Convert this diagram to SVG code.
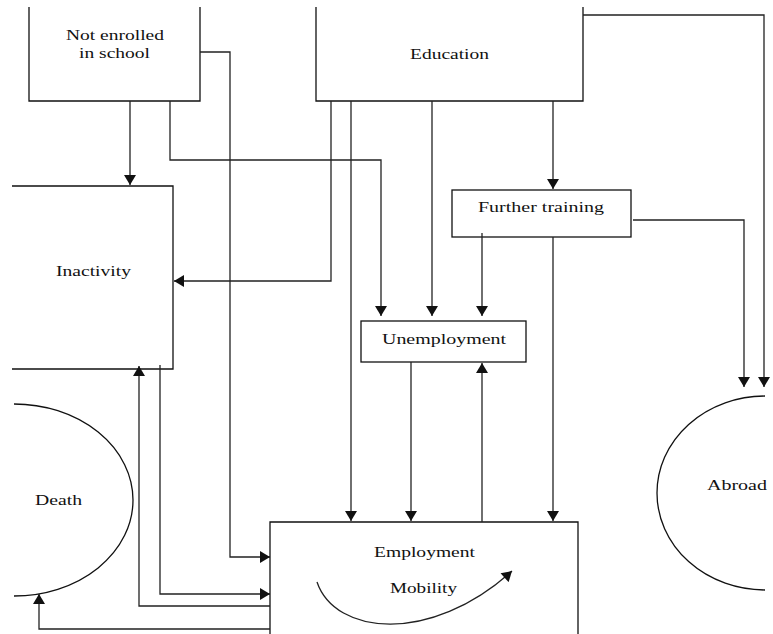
<svg xmlns="http://www.w3.org/2000/svg" width="773" height="634" viewBox="0 0 773 634">
<defs>
<marker id="ah" markerUnits="userSpaceOnUse" markerWidth="12" markerHeight="12" refX="10" refY="6" orient="auto" viewBox="0 0 10 12">
<path d="M0,0 L10,6 L0,12 z" fill="#111"/>
</marker>
</defs>
<style>
.box{fill:none;stroke:#111;stroke-width:1.3}
.lbl{font-family:'Liberation Serif','Times New Roman',Times,serif;font-size:15.5px;fill:#111}
.con{fill:none;stroke:#222;stroke-width:1.3}
.arr{marker-end:url(#ah)}
</style>
<rect width="773" height="634" fill="#fff"/>
<g id="not-enrolled">
<path class="box" d="M29 7 V101 H200 V7"/>
<text class="lbl" x="66" y="40" textLength="98" lengthAdjust="spacingAndGlyphs">Not enrolled</text>
<text class="lbl" x="79" y="58" textLength="71" lengthAdjust="spacingAndGlyphs">in school</text>
</g>
<g id="education">
<path class="box" d="M316 7 V101 H583 V7"/>
<text class="lbl" x="410" y="59" textLength="79" lengthAdjust="spacingAndGlyphs">Education</text>
</g>
<g id="inactivity">
<path class="box" d="M12 186 H173 V369 H12"/>
<text class="lbl" x="56" y="276" textLength="75" lengthAdjust="spacingAndGlyphs">Inactivity</text>
</g>
<g id="further-training">
<rect class="box" x="452" y="190" width="179" height="47"/>
<text class="lbl" x="478" y="212" textLength="126" lengthAdjust="spacingAndGlyphs">Further training</text>
</g>
<g id="unemployment">
<rect class="box" x="361" y="321" width="165" height="41"/>
<text class="lbl" x="382" y="344" textLength="124" lengthAdjust="spacingAndGlyphs">Unemployment</text>
</g>
<g id="employment">
<path class="box" d="M270 640 V522 H578 V640"/>
<text class="lbl" x="374" y="557" textLength="101" lengthAdjust="spacingAndGlyphs">Employment</text>
<text class="lbl" x="390" y="593" textLength="67" lengthAdjust="spacingAndGlyphs">Mobility</text>
<path class="con arr" d="M317 582 C335 635, 430 645, 512 571"/>
</g>
<g id="death">
<path class="box" d="M14 404 A119 96 0 0 1 14 596"/>
<text class="lbl" x="35" y="505" textLength="47" lengthAdjust="spacingAndGlyphs">Death</text>
</g>
<g id="abroad">
<path class="box" d="M765 396 A108 97 0 0 0 765 590"/>
<text class="lbl" x="707" y="490" textLength="60" lengthAdjust="spacingAndGlyphs">Abroad</text>
</g>
<g id="connectors">
<path class="con arr" d="M130 101 V185"/>
<path class="con arr" d="M170 101 V160 H381 V316"/>
<path class="con arr" d="M200 52 H230 V557 H270"/>
<path class="con arr" d="M331 101 V281 H174"/>
<path class="con arr" d="M351 101 V521"/>
<path class="con arr" d="M432 101 V316"/>
<path class="con arr" d="M553 101 V189"/>
<path class="con arr" d="M583 15 H764 V387"/>
<path class="con arr" d="M633 220 H744 V387"/>
<path class="con arr" d="M482 233 V316"/>
<path class="con arr" d="M553 237 V521"/>
<path class="con arr" d="M411 362 V521"/>
<path class="con arr" d="M482 522 V363"/>
<path class="con arr" d="M160 365 V594 H270"/>
<path class="con arr" d="M270 606 H139 V366"/>
<path class="con arr" d="M270 629 H39 V594"/>
</g>
</svg>
